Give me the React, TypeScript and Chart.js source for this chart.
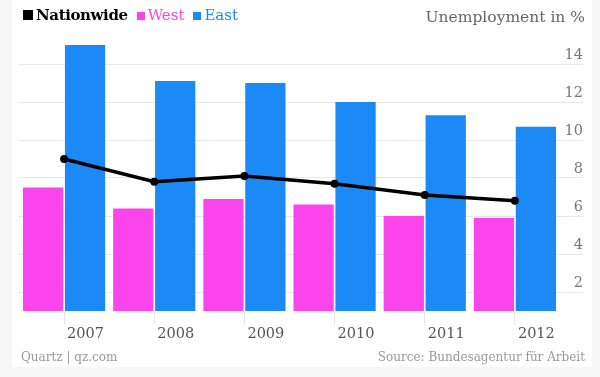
import React, { useEffect, useRef } from "react";
import { Chart, registerables } from "chart.js";

Chart.register(...registerables);

const years = ["2007", "2008", "2009", "2010", "2011", "2012"];
const nationwide = [9.0, 7.8, 8.1, 7.7, 7.1, 6.8];
const west = [7.5, 6.4, 6.9, 6.6, 6.0, 5.9];
const east = [15.0, 13.1, 13.0, 12.0, 11.3, 10.7];
const yTicks = [2, 4, 6, 8, 10, 12, 14];

const PINK = "#fc44ec";
const BLUE = "#1b8af6";
const SERIF = "'DejaVu Serif', 'Liberation Serif', serif";

export default function App() {
  const ref = useRef<HTMLCanvasElement | null>(null);

  useEffect(() => {
    if (!ref.current) return;
    const chart = new Chart(ref.current, {
      type: "bar",
      data: {
        labels: years,
        datasets: [
          {
            type: "line",
            label: "Nationwide",
            data: nationwide,
            borderColor: "#000",
            backgroundColor: "#000",
            borderWidth: 3.5,
            pointRadius: 4,
            pointBackgroundColor: "#000",
            pointBorderWidth: 0,
            tension: 0,
            order: 0,
          } as any,
          {
            label: "West",
            data: west,
            backgroundColor: PINK,
            barPercentage: 0.96,
            categoryPercentage: 0.93,
            order: 1,
          },
          {
            label: "East",
            data: east,
            backgroundColor: BLUE,
            barPercentage: 0.96,
            categoryPercentage: 0.93,
            order: 1,
          },
        ],
      },
      options: {
        responsive: false,
        animation: false,
        layout: { padding: { left: 19, right: 17, top: 35.5, bottom: 0 } },
        plugins: { legend: { display: false }, tooltip: { enabled: false } },
        scales: {
          x: {
            grid: {
              drawOnChartArea: false,
              offset: false,
              tickLength: 14,
              color: "#e6e6e6",
            },
            border: { display: false },
            ticks: {
              align: "start",
              labelOffset: 3,
              padding: 1,
              color: "#555",
              font: { family: SERIF, size: 14.5 },
              maxRotation: 0,
              autoSkip: false,
            },
            afterFit: (s: any) => {
              s.height = 66;
            },
          },
          y: {
            position: "right",
            min: 1,
            max: 15.5,
            afterBuildTicks: (s: any) => {
              s.ticks = yTicks.map((v) => ({ value: v }));
            },
            afterFit: (s: any) => {
              s.width = 23;
            },
            grid: {
              color: "#e8e8e8",
              tickLength: 23,
              drawTicks: true,
            },
            border: { display: false },
            ticks: {
              crossAlign: "far",
              labelOffset: -9,
              padding: 0,
              color: "#777",
              font: { family: SERIF, size: 14.5 },
            },
          },
        },
      },
    });
    return () => chart.destroy();
  }, []);

  const sq = (c: string, s: number): React.CSSProperties => ({
    display: "inline-block",
    width: s,
    height: s,
    background: c,
    marginRight: 3,
    verticalAlign: "baseline",
  });

  return (
    <div
      style={{
        position: "fixed",
        left: 0,
        top: 0,
        width: 600,
        height: 377,
        background: "#f6f6f6",
        overflow: "hidden",
        fontFamily: SERIF,
      }}
    >
      <div
        style={{
          position: "absolute",
          left: 12,
          top: 0,
          width: 580,
          height: 367,
          background: "#fff",
        }}
      />
      <canvas
        ref={ref}
        width={600}
        height={377}
        style={{ position: "absolute", left: 0, top: 0, width: 600, height: 377 }}
      />
      <div
        style={{
          position: "absolute",
          left: 23,
          top: 5,
          fontSize: 15,
          lineHeight: "20px",
          whiteSpace: "nowrap",
          fontFamily: SERIF,
        }}
      >
        <span style={sq("#000", 10)} />
        <span style={{ fontWeight: "bold", color: "#000", marginRight: 9, fontFamily: SERIF, letterSpacing: -0.4 }}>
          Nationwide
        </span>
        <span style={sq(PINK, 8)} />
        <span style={{ color: PINK, marginRight: 9, fontFamily: SERIF }}>West</span>
        <span style={sq(BLUE, 8)} />
        <span style={{ color: BLUE, fontFamily: SERIF }}>East</span>
      </div>
      <div
        style={{
          position: "absolute",
          right: 15,
          top: 7,
          fontSize: 15.5,
          lineHeight: "20px",
          color: "#666",
          whiteSpace: "nowrap",
        }}
      >
        Unemployment in %
      </div>
      <div
        style={{
          position: "absolute",
          left: 21,
          top: 349,
          fontSize: 12,
          lineHeight: "16px",
          color: "#999",
          whiteSpace: "nowrap",
        }}
      >
        Quartz | qz.com
      </div>
      <div
        style={{
          position: "absolute",
          right: 15,
          top: 349,
          fontSize: 12,
          lineHeight: "16px",
          color: "#999",
          whiteSpace: "nowrap",
        }}
      >
        Source: Bundesagentur für Arbeit
      </div>
    </div>
  );
}
